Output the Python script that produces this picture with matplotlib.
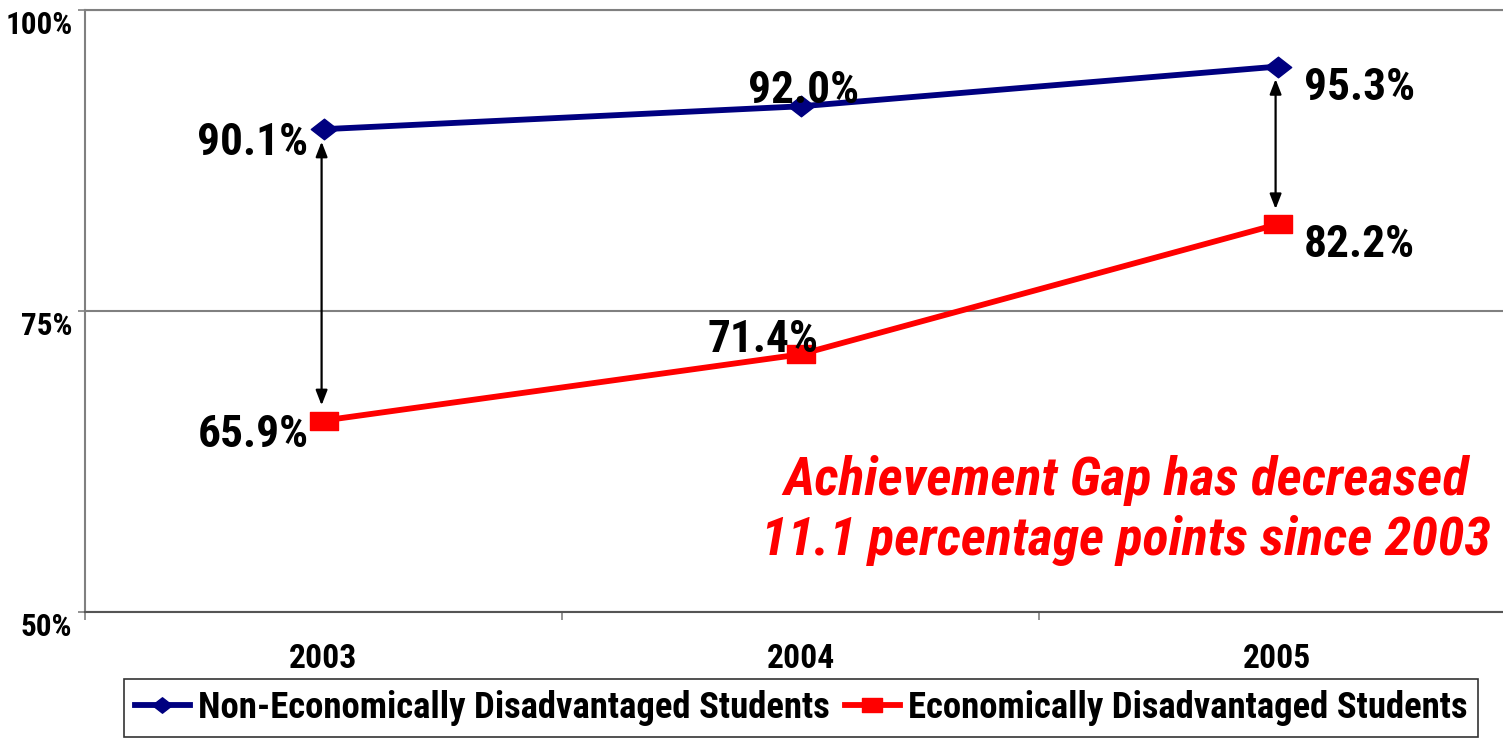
import matplotlib
matplotlib.use("Agg")
import matplotlib.pyplot as plt
import matplotlib.font_manager as fm
from matplotlib.path import Path

categories = ["2003", "2004", "2005"]
non_econ = [90.1, 92.0, 95.3]
econ = [65.9, 71.4, 82.2]
non_labels = ["90.1%", "92.0%", "95.3%"]
econ_labels = ["65.9%", "71.4%", "82.2%"]
y_ticks = [50, 75, 100]
y_tick_labels = ["50%", "75%", "100%"]
series_names = ["Non-Economically Disadvantaged Students", "Economically Disadvantaged Students"]
note = "Achievement Gap has decreased\n11.1 percentage points since 2003"

names = {f.name for f in fm.fontManager.ttflist}
FAM = "DejaVu Sans"
for cand in ["Arial Narrow", "Liberation Sans Narrow", "Nimbus Sans Narrow", "Roboto Condensed",
             "PT Sans Narrow", "Archivo Narrow", "Barlow Semi Condensed"]:
    if cand in names:
        FAM = cand
        break
plt.rcParams["font.family"] = [FAM, "DejaVu Sans"]
plt.rcParams["font.weight"] = "bold"

NAVY = "#000080"
RED = "#FF0000"
GRAY = "#808080"

diamond = Path([(-1, 0), (0, 0.78), (1, 0), (0, -0.78), (-1, 0)],
               [Path.MOVETO, Path.LINETO, Path.LINETO, Path.LINETO, Path.CLOSEPOLY])
rect = Path([(-1, -0.68), (1, -0.68), (1, 0.68), (-1, 0.68), (-1, -0.68)],
            [Path.MOVETO, Path.LINETO, Path.LINETO, Path.LINETO, Path.CLOSEPOLY])

fig = plt.figure(figsize=(15.03, 7.41), dpi=100)
renderer = fig.canvas.get_renderer()


def fit_size(s, target_px, base=20, **kw):
    t = fig.text(0, 0, s, fontsize=base, **kw)
    w = t.get_window_extent(renderer).width
    t.remove()
    return base * target_px / w


fs_data = fit_size("90.1%", 111)
fs_ytick = fit_size("100%", 67)
fs_xtick = fit_size("2003", 68)
fs_leg = fit_size(series_names[0], 633)
fs_note = fit_size("Achievement Gap has decreased", 684, style="italic")

W, H = 1503, 741
left, right, top, bottom = 85, 1516, 10, 612
ax = fig.add_axes([left / W, 1 - bottom / H, (right - left) / W, (bottom - top) / H])

x = list(range(1, len(categories) + 1))
ax.plot(x, non_econ, color=NAVY, lw=4.2, marker=diamond, ms=19, mfc=NAVY, mec=NAVY,
        label=series_names[0], zorder=4)
ax.plot(x, econ, color=RED, lw=4.2, marker=rect, ms=20, mfc=RED, mec=RED,
        label=series_names[1], zorder=4)

ax.set_xlim(0.5, 3.5)
ax.set_ylim(50, 100)
ax.set_yticks(y_ticks)
ax.set_yticklabels(y_tick_labels, fontsize=fs_ytick)
for t in ax.get_yticklabels():
    t.set_verticalalignment("top")
ax.tick_params(axis="y", direction="out", length=5, width=1.2, color=GRAY, pad=4)
ax.set_xticks(x)
ax.set_xticklabels(categories, fontsize=fs_xtick)
ax.set_xticks([0.5, 1.5, 2.5, 3.5], minor=True)
ax.tick_params(axis="x", which="major", length=0, pad=22)
ax.tick_params(axis="x", which="minor", direction="out", length=6, width=1.2, color=GRAY)

ax.yaxis.grid(True, color=GRAY, lw=1.5)
ax.set_axisbelow(True)
for s in ["left", "bottom", "top"]:
    ax.spines[s].set_color(GRAY)
    ax.spines[s].set_linewidth(1.5)
ax.spines["bottom"].set_color("#555555")
ax.spines["right"].set_visible(False)

# data labels
non_off = [(-15, -14, "right"), (3, 15, "center"), (26, -21, "left")]
econ_off = [(-15, -14, "right"), (18, 14, "right"), (26, -21, "left")]
for xi, v, lab, (dx, dy, ha) in zip(x, non_econ, non_labels, non_off):
    ax.annotate(lab, (xi, v), xytext=(dx, dy), textcoords="offset pixels",
                ha=ha, va="center", fontsize=fs_data, zorder=5)
for xi, v, lab, (dx, dy, ha) in zip(x, econ, econ_labels, econ_off):
    ax.annotate(lab, (xi, v), xytext=(dx, dy), textcoords="offset pixels",
                ha=ha, va="center", fontsize=fs_data, zorder=5)

# gap arrows at first and last year
for i in [0, len(x) - 1]:
    ax.annotate("", xy=(x[i] - 0.004, econ[i]), xytext=(x[i] - 0.004, non_econ[i]),
                arrowprops=dict(arrowstyle="<|-|>,head_length=0.9,head_width=0.35",
                                color="black", lw=1.6, shrinkA=9, shrinkB=11),
                zorder=3)

ax.text(0.7275, 0.168, note, transform=ax.transAxes, ha="center", va="center",
        color=RED, fontsize=fs_note, style="italic", linespacing=1.22)

px = fs_leg * 100 / 72.0  # font size in pixels
leg = fig.legend(loc="center", bbox_to_anchor=(0.533, 0.0445), ncol=2,
                 frameon=True, fancybox=False, edgecolor="black",
                 prop=dict(weight="bold", size=fs_leg),
                 handlelength=55 / px, handletextpad=8 / px, columnspacing=15 / px,
                 borderpad=0.3, borderaxespad=0, markerscale=0.75)
leg.get_frame().set_linewidth(1.2)

fig.savefig("out.png", dpi=100)
